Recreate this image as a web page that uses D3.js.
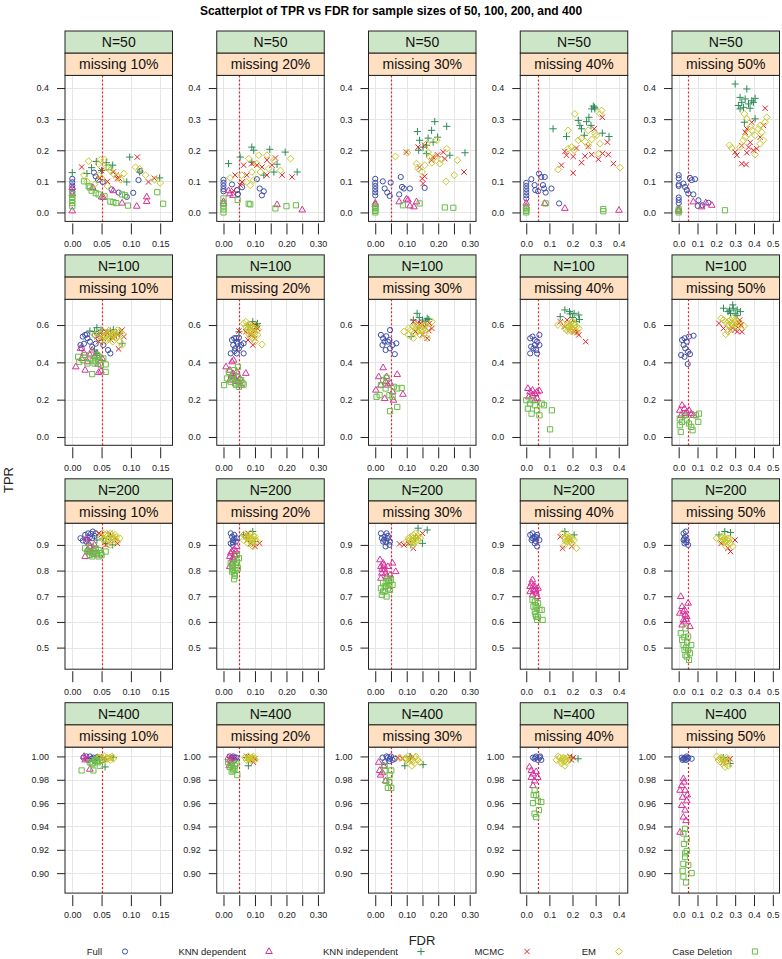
<!DOCTYPE html>
<html><head><meta charset="utf-8">
<style>
  body { margin:0; background:#fff; }
  svg text { font-family: "Liberation Sans", Arial, Helvetica, sans-serif; }
</style>
<script src="https://cdn.jsdelivr.net/npm/d3@7/dist/d3.min.js"></script>
</head><body>
<svg id="chart" width="782" height="959"></svg>
<script>
// ───────────── data ─────────────
const sampleSizes = [50, 100, 200, 400];
const missingRates = [10, 20, 30, 40, 50];
const methods = ['Full', 'KNN dependent', 'KNN independent', 'MCMC', 'EM', 'Case Deletion'];

// per-column FDR ticks, per-row TPR ticks
const xTicks = [
  [0, 0.05, 0.10, 0.15],
  [0, 0.05, 0.10, 0.15, 0.20, 0.25, 0.30],
  [0, 0.05, 0.10, 0.15, 0.20, 0.25, 0.30],
  [0, 0.1, 0.2, 0.3, 0.4],
  [0, 0.1, 0.2, 0.3, 0.4, 0.5]
];
const yTicks = [
  [0, 0.1, 0.2, 0.3, 0.4],
  [0, 0.2, 0.4, 0.6],
  [0.5, 0.6, 0.7, 0.8, 0.9],
  [0.90, 0.92, 0.94, 0.96, 0.98, 1.00]
];
const fdrTarget = 0.05;

// points [FDR, TPR]; 20 panels each, ordered N=50 (10%..50%), N=100, N=200, N=400
const full = [
  [[0,.108],[0,.097],[0,.087],[0,.077],[0,.067],[.037,.128],[.040,.116],[.044,.105],[.052,.098],[.067,.074],[.079,.064],[.093,.050],[.104,.063],[.113,.104],[.116,.133]],
  [[0,.105],[0,.095],[0,.085],[0,.075],[0,.068],[.027,.09],[.043,.072],[.046,.059],[.059,.081],[.106,.107],[.115,.077],[.122,.055],[.128,.068]],
  [[0,.108],[0,.095],[0,.085],[0,.075],[0,.065],[0,.055],[.024,.1],[.03,.077],[.038,.064],[.046,.053],[.049,.096],[.076,.058],[.081,.114],[.085,.082],[.091,.077],[.11,.077],[.157,.079]],
  [[0,.095],[0,.085],[0,.075],[0,.065],[0,.055],[0,.045],[.022,.107],[.036,.088],[.039,.072],[.051,.068],[.055,.125],[.065,.114],[.072,.088],[.08,.114],[.077,.077],[.084,.064],[.109,.077],[.142,.029]],
  [[0,.12],[0,.11],[0,.09],[0,.085],[0,.048],[0,.04],[0,.03],[.025,.093],[.034,.082],[.043,.072],[.051,.061],[.06,.111],[.069,.104],[.087,.107],[.078,.058],[.105,.039],[.101,.021],[.126,.023],[.158,.031]],
  [[.014,.493],[.018,.538],[.022,.547],[.026,.529],[.016,.475],[.03,.511],[.038,.547],[.045,.529],[.061,.466],[.065,.448],[.034,.484],[.053,.493],[.04,.5],[.025,.55],[.02,.5]],
  [[.027,.52],[.034,.529],[.042,.511],[.049,.532],[.031,.493],[.037,.475],[.056,.493],[.064,.502],[.023,.448],[.042,.448],[.064,.448],[.049,.475],[.04,.53],[.045,.5],[.035,.46]],
  [[.018,.547],[.025,.529],[.03,.511],[.04,.511],[.047,.573],[.023,.493],[.033,.466],[.047,.475],[.055,.493],[.067,.502],[.062,.444],[.045,.52],[.035,.54]],
  [[.017,.529],[.027,.538],[.037,.52],[.047,.511],[.057,.547],[.021,.484],[.031,.475],[.017,.448],[.047,.448],[.057,.493],[.037,.493],[.043,.466]],
  [[.018,.52],[.031,.529],[.043,.511],[.055,.538],[.079,.543],[.013,.439],[.031,.43],[.035,.475],[.05,.457],[.06,.444],[.048,.391],[.026,.493]],
  [[.014,.926],[.022,.939],[.027,.945],[.032,.943],[.034,.926],[.038,.935],[.035,.952],[.024,.913],[.018,.917],[.03,.93],[.026,.92],[.04,.945]],
  [[.023,.945],[.027,.932],[.034,.939],[.031,.919],[.023,.906],[.039,.913],[.042,.926],[.029,.9],[.035,.925],[.03,.91]],
  [[.018,.945],[.03,.932],[.036,.945],[.04,.926],[.047,.913],[.025,.913],[.033,.894],[.045,.9],[.021,.926],[.028,.92],[.035,.91],[.04,.935]],
  [[.017,.939],[.027,.945],[.037,.932],[.047,.939],[.057,.919],[.023,.919],[.037,.906],[.047,.894],[.027,.926],[.035,.925],[.04,.915],[.045,.93]],
  [[.026,.945],[.035,.932],[.043,.919],[.031,.906],[.05,.9],[.026,.919],[.038,.952],[.03,.925],[.04,.91]],
  [[.019,.999],[.024,1],[.03,1],[.036,.999],[.027,.997],[.041,.999],[.033,.998],[.038,.996]],
  [[.02,1],[.031,1],[.041,.999],[.026,.998],[.036,.997],[.025,.999],[.035,.999]],
  [[.023,.999],[.036,1],[.046,.998],[.055,.997],[.03,.995],[.062,.998],[.04,.999],[.05,1],[.045,.996]],
  [[.029,.999],[.043,1],[.058,.999],[.065,.997],[.05,.997],[.036,.998],[.04,.999],[.06,1]],
  [[.016,.999],[.025,.998],[.034,.999],[.043,1],[.051,.999],[.069,.998],[.021,.997],[.039,.997],[.03,.998],[.047,.998]]
];
const knnDependent = [
  [[0,.005],[0,.08],[0,.06],[.05,.05],[.07,.07],[.085,.03],[.11,.02],[.127,.035],[.127,.05],[.053,.048],[.035,.08]],
  [[0,.035],[0,.028],[.016,.07],[.02,.06],[.03,.055],[.17,.025],[.25,.008]],
  [[0,.03],[0,.025],[.076,.034],[.099,.043],[.104,.04],[.11,.021],[.123,.018],[.131,.034]],
  [[0,.03],[0,.02],[.08,.029],[.167,.013],[.401,.007]],
  [[0,.01],[0,.005],[.078,.034],[.122,.018],[.144,.031],[.176,.023]],
  [[.006,.376],[.014,.475],[.016,.421],[.022,.358],[.026,.403],[.038,.43],[.042,.448],[.045,.346],[.049,.353],[.034,.466],[.051,.421],[.03,.44],[.044,.39],[.02,.45]],
  [[.008,.376],[.02,.358],[.027,.403],[.032,.412],[.042,.349],[.046,.296],[.056,.278],[.071,.341],[.034,.323],[.02,.305],[.052,.314],[.03,.34],[.04,.3],[.025,.33]],
  [[.002,.251],[.011,.323],[.025,.371],[.033,.296],[.04,.278],[.048,.287],[.036,.323],[.018,.278],[.055,.242],[.07,.335],[.088,.229],[.058,.197],[.03,.206]],
  [[.007,.26],[.017,.242],[.027,.251],[.037,.233],[.047,.242],[.057,.247],[.011,.215],[.027,.224],[.047,.206],[.037,.197]],
  [[.006,.143],[.018,.17],[.031,.152],[.043,.134],[.055,.143],[.067,.125],[.013,.116],[.035,.125],[.079,.116]],
  [[.022,.855],[.026,.881],[.03,.894],[.034,.868],[.028,.906],[.042,.861],[.038,.9],[.024,.926],[.03,.875],[.036,.885]],
  [[.02,.855],[.023,.868],[.027,.874],[.031,.842],[.034,.881],[.042,.894],[.037,.861],[.027,.829],[.02,.816],[.035,.86],[.04,.875],[.03,.85]],
  [[.015,.842],[.018,.816],[.021,.79],[.025,.829],[.03,.803],[.036,.777],[.04,.816],[.018,.77],[.047,.783],[.065,.796],[.055,.829],[.028,.82],[.033,.79],[.022,.805]],
  [[.017,.738],[.023,.751],[.027,.764],[.031,.725],[.037,.738],[.043,.712],[.047,.699],[.027,.705],[.017,.718],[.051,.731],[.035,.72],[.04,.725],[.03,.74]],
  [[.011,.699],[.018,.66],[.031,.647],[.035,.627],[.026,.608],[.043,.621],[.05,.673],[.018,.588],[.06,.582],[.006,.634],[.025,.64],[.04,.61],[.03,.6]],
  [[.02,1],[.022,.997],[.03,.989],[.026,.998]],
  [[.015,.999],[.02,.997],[.026,.994],[.031,.998],[.018,.992],[.024,.996],[.028,.999]],
  [[.014,.988],[.017,.984],[.027,.992],[.033,.979],[.023,.986],[.011,.995]],
  [[.014,.991],[.022,.982],[.029,.985],[.036,.979],[.043,.987],[.029,.975],[.022,.988],[.05,.982]],
  [[.025,.981],[.016,.975],[.034,.971],[.021,.965],[.043,.962],[.016,.958],[.034,.954],[.025,.948],[.007,.935],[.039,.945],[.046,.967],[.028,.978],[.007,.971]]
];
const knnIndependent = [
  [[0,.128],[.033,.144],[.041,.164],[.058,.16],[.069,.152],[.098,.178],[.115,.13],[.149,.111],[.093,.098],[.05,.135],[.025,.125]],
  [[.016,.157],[.053,.178],[.09,.21],[.096,.2],[.147,.203],[.196,.194],[.234,.13],[.09,.162],[.128,.12],[.16,.13],[.17,.155]],
  [[.134,.26],[.141,.232],[.152,.21],[.163,.216],[.168,.239],[.179,.264],[.184,.226],[.189,.292],[.198,.242],[.227,.277],[.237,.184],[.285,.192],[.163,.189],[.138,.2]],
  [[.116,.269],[.174,.244],[.225,.296],[.232,.28],[.239,.269],[.261,.292],[.271,.306],[.283,.333],[.29,.342],[.297,.333],[.28,.28],[.329,.255],[.358,.244],[.251,.248],[.295,.338]],
  [[.3,.413],[.326,.333],[.335,.354],[.353,.365],[.362,.397],[.371,.349],[.388,.359],[.397,.354],[.406,.367],[.406,.301],[.344,.338],[.379,.335],[.317,.344],[.349,.29],[.326,.37]],
  [[.03,.568],[.038,.565],[.042,.586],[.049,.573],[.057,.556],[.065,.568],[.081,.556],[.065,.538],[.042,.448],[.038,.466],[.085,.502],[.045,.555],[.07,.575],[.075,.55]],
  [[.049,.564],[.093,.618],[.105,.6],[.078,.6],[.1,.582],[.108,.609]],
  [[.133,.663],[.15,.627],[.165,.636],[.121,.627],[.114,.538],[.16,.62],[.14,.64],[.17,.63]],
  [[.167,.681],[.187,.672],[.207,.663],[.227,.654],[.147,.645],[.217,.618],[.2,.64],[.23,.63],[.19,.66]],
  [[.238,.69],[.262,.672],[.287,.708],[.311,.681],[.328,.672],[.275,.663],[.3,.66],[.29,.69],[.27,.68],[.31,.65]],
  [[.042,.919],[.053,.926],[.065,.932],[.069,.9],[.057,.906]],
  [[.064,.939],[.093,.952],[.1,.913],[.078,.926]],
  [[.128,.926],[.136,.965],[.165,.958],[.15,.906],[.113,.9]],
  [[.167,.952],[.207,.939]],
  [[.214,.939],[.245,.952],[.275,.948]],
  [[.041,.999],[.056,.991],[.07,.999],[.047,.997]],
  [[.079,.992],[.095,.998],[.073,.999]],
  [[.094,.992],[.152,.993],[.11,1]],
  [[.224,.998],[.196,.999]],
  [[.273,.994],[.237,.999]]
];
const mcmc = [
  [[.016,.146],[.047,.11],[.05,.135],[.07,.13],[.075,.12],[.077,.11],[.111,.178],[.13,.098],[.14,.11],[.08,.11],[.06,.10]],
  [[.037,.12],[.032,.07],[.064,.152],[.09,.157],[.106,.152],[.122,.146],[.138,.12],[.154,.152],[.186,.12],[.218,.114],[.074,.12],[.059,.098],[.053,.088],[.138,.168],[.165,.175]],
  [[.099,.194],[.136,.21],[.141,.146],[.149,.109],[.152,.093],[.157,.116],[.179,.168],[.216,.194],[.221,.173],[.282,.13],[.184,.178],[.198,.185],[.157,.216]],
  [[.152,.152],[.167,.196],[.174,.184],[.203,.18],[.203,.127],[.217,.207],[.239,.16],[.254,.181],[.268,.212],[.283,.186],[.294,.269],[.329,.306],[.312,.171],[.351,.226],[.355,.186],[.377,.157],[.33,.19]],
  [[.3,.194],[.309,.184],[.335,.157],[.358,.154],[.353,.258],[.362,.269],[.371,.21],[.38,.225],[.388,.29],[.397,.2],[.415,.205],[.433,.242],[.45,.28],[.459,.335],[.362,.192],[.335,.215]],
  [[.042,.538],[.048,.556],[.053,.529],[.057,.564],[.064,.547],[.069,.532],[.077,.547],[.088,.538],[.079,.472],[.085,.573],[.045,.511],[.06,.555],[.072,.54],[.066,.52]],
  [[.049,.568],[.071,.564],[.086,.547],[.093,.493],[.1,.529],[.078,.52],[.093,.573],[.108,.582],[.085,.59],[.1,.6],[.09,.55]],
  [[.121,.618],[.136,.582],[.15,.547],[.165,.529],[.18,.582],[.128,.565],[.157,.591],[.172,.609],[.143,.609],[.15,.6],[.135,.61],[.17,.57]],
  [[.147,.618],[.167,.591],[.187,.573],[.227,.547],[.257,.511],[.207,.565],[.177,.627],[.197,.6],[.19,.61],[.21,.58],[.22,.56]],
  [[.214,.609],[.238,.582],[.275,.573],[.311,.565],[.336,.564],[.324,.627],[.299,.6],[.28,.59],[.3,.575],[.33,.6],[.32,.61]],
  [[.045,.945],[.053,.932],[.057,.9],[.065,.913],[.073,.926],[.077,.906],[.049,.939],[.064,.945]],
  [[.071,.932],[.086,.906],[.1,.894],[.115,.906],[.078,.945]],
  [[.077,.904],[.106,.906],[.121,.887],[.136,.932],[.15,.945],[.091,.9]],
  [[.147,.932],[.157,.887],[.197,.894],[.187,.919]],
  [[.226,.906],[.262,.887],[.299,.919],[.275,.874]],
  [[.047,1],[.053,.998],[.059,.997],[.064,.999]],
  [[.073,1],[.084,.997],[.095,.995],[.1,.998]],
  [[.072,.999],[.087,.998],[.11,.997],[.119,1]],
  [[.203,.999],[.196,.997],[.188,1]],
  [[.237,.995],[.255,.997],[.273,.998]]
];
const em = [
  [[.028,.165],[.045,.155],[.048,.17],[.055,.17],[.058,.145],[.065,.135],[.07,.125],[.078,.115],[.083,.105],[.088,.125],[.108,.145],[.115,.14],[.125,.12],[.14,.105],[.15,.095],[.045,.12],[.05,.11],[.038,.09],[.06,.085],[.02,.12],[.025,.10]],
  [[.021,.111],[.08,.173],[.112,.184],[.138,.184],[.16,.168],[.181,.135],[.213,.173],[.074,.098],[.085,.087],[.096,.104],[.117,.13],[.106,.157],[.143,.141],[.058,.12],[.09,.13]],
  [[.064,.18],[.102,.192],[.131,.157],[.136,.141],[.149,.13],[.157,.152],[.163,.221],[.168,.194],[.173,.178],[.189,.178],[.195,.232],[.205,.157],[.227,.205],[.225,.1],[.251,.12],[.261,.168],[.21,.17],[.18,.16]],
  [[.138,.138],[.181,.205],[.196,.21],[.207,.2],[.21,.317],[.225,.232],[.239,.239],[.254,.228],[.268,.216],[.283,.235],[.297,.253],[.304,.248],[.319,.317],[.326,.328],[.319,.221],[.312,.189],[.406,.144],[.181,.264],[.268,.264]],
  [[.27,.216],[.282,.207],[.326,.21],[.344,.232],[.349,.317],[.353,.242],[.371,.253],[.388,.264],[.406,.248],[.424,.269],[.433,.28],[.441,.258],[.45,.232],[.459,.29],[.468,.306],[.406,.186],[.433,.221],[.362,.301],[.38,.275]],
  [[.038,.547],[.042,.556],[.049,.55],[.053,.565],[.057,.538],[.061,.556],[.065,.529],[.069,.547],[.073,.561],[.077,.573],[.081,.565],[.085,.493],[.081,.511],[.069,.511],[.057,.511],[.049,.52],[.06,.545],[.066,.56],[.072,.55],[.058,.525],[.075,.535],[.062,.57],[.052,.53],[.086,.55],[.07,.54]],
  [[.064,.609],[.071,.591],[.078,.582],[.086,.6],[.093,.565],[.1,.582],[.108,.547],[.086,.538],[.078,.556],[.122,.496],[.071,.618],[.093,.529],[.1,.511],[.08,.6],[.09,.59],[.095,.55],[.085,.575],[.1,.56],[.105,.6],[.075,.57],[.11,.575]],
  [[.091,.565],[.106,.582],[.113,.573],[.121,.591],[.128,.6],[.135,.565],[.143,.547],[.15,.573],[.157,.556],[.165,.529],[.172,.582],[.18,.618],[.106,.547],[.121,.529],[.14,.58],[.15,.59],[.13,.585],[.16,.6],[.145,.57],[.125,.56],[.155,.6]],
  [[.137,.6],[.157,.609],[.167,.582],[.177,.6],[.187,.591],[.197,.618],[.207,.609],[.217,.591],[.227,.582],[.197,.565],[.217,.565],[.177,.568],[.19,.6],[.2,.58],[.21,.6],[.18,.59],[.2,.62],[.19,.575]],
  [[.226,.636],[.25,.618],[.262,.6],[.275,.627],[.287,.636],[.299,.618],[.311,.591],[.324,.6],[.348,.595],[.262,.565],[.25,.55],[.238,.627],[.28,.61],[.29,.6],[.27,.6],[.3,.63],[.31,.61],[.285,.58],[.265,.62]],
  [[.049,.932],[.053,.919],[.057,.939],[.061,.926],[.065,.945],[.069,.932],[.073,.919],[.077,.913],[.081,.926],[.057,.906],[.065,.9],[.073,.939],[.053,.945],[.06,.935],[.07,.925],[.075,.93],[.063,.915],[.055,.925],[.067,.94]],
  [[.064,.919],[.071,.932],[.078,.939],[.086,.926],[.093,.919],[.1,.932],[.078,.906],[.093,.894],[.108,.913],[.064,.939],[.086,.945],[.08,.93],[.09,.925],[.095,.935],[.085,.915],[.075,.925],[.1,.92],[.09,.905]],
  [[.099,.913],[.106,.926],[.113,.932],[.121,.939],[.128,.945],[.135,.919],[.121,.9],[.128,.913],[.143,.926],[.113,.906],[.12,.925],[.125,.92],[.13,.93],[.115,.915],[.135,.935],[.11,.92]],
  [[.157,.945],[.167,.926],[.177,.913],[.187,.932],[.197,.906],[.207,.919],[.217,.887],[.167,.9],[.177,.939],[.18,.92],[.185,.925],[.175,.93],[.19,.915],[.17,.915],[.2,.925]],
  [[.201,.926],[.226,.932],[.238,.919],[.25,.913],[.262,.926],[.275,.906],[.287,.894],[.25,.894],[.226,.913],[.24,.925],[.245,.91],[.255,.92],[.265,.915],[.235,.935],[.27,.925]],
  [[.047,.999],[.053,.998],[.059,.999],[.064,.999],[.07,.998],[.056,.997],[.041,.998],[.045,.999],[.05,.997],[.06,.998],[.065,.997],[.055,1],[.068,1]],
  [[.068,.999],[.079,1],[.084,.998],[.089,.999],[.095,1],[.1,.997],[.073,.997],[.082,.998],[.087,.997],[.092,.999],[.078,.998],[.097,.998]],
  [[.078,.999],[.094,.998],[.11,.997],[.126,.999],[.142,.995],[.116,.992],[.103,1],[.129,1],[.1,.998],[.12,.996],[.135,.997],[.105,.995],[.125,.994]],
  [[.13,.997],[.145,.999],[.159,.998],[.174,.995],[.167,.992],[.188,.997],[.152,.994],[.138,1],[.181,.999],[.155,.997],[.165,.996],[.16,.999],[.17,.998],[.15,.996]],
  [[.202,1],[.22,.998],[.229,.994],[.237,.997],[.246,.991],[.255,.999],[.264,.992],[.211,.997],[.225,.999],[.24,.996],[.25,.994],[.23,.998],[.26,.996]]
];
const caseDeletion = [
  [[0,.03],[0,.04],[0,.05],[0,.06],[0,.02],[.028,.085],[.03,.08],[.04,.062],[.045,.058],[.055,.052],[.065,.035],[.07,.033],[.075,.03],[.085,.058],[.09,.055],[.095,.022],[.145,.065],[.155,.028],[.062,.145],[.02,.10],[.033,.07]],
  [[0,0],[0,.01],[0,.02],[0,.03],[0,.045],[.045,.04],[.08,.028],[.085,.026],[.165,.013],[.2,.02],[.23,.023]],
  [[0,0],[0,.005],[0,.01],[0,.015],[0,.02],[.088,.023],[.141,.029],[.221,.016],[.248,.015]],
  [[0,0],[0,.005],[0,.01],[0,.015],[.084,.029],[.333,.011],[.333,.004]],
  [[0,0],[0,.005],[0,.01],[.246,.007]],
  [[.01,.43],[.012,.403],[.018,.412],[.026,.394],[.034,.337],[.038,.394],[.042,.439],[.045,.412],[.049,.385],[.053,.421],[.057,.349],[.057,.389],[.03,.421],[.022,.439],[.035,.41],[.045,.43],[.04,.405]],
  [[.002,.278],[.012,.314],[.017,.349],[.023,.296],[.031,.332],[.037,.287],[.049,.269],[.056,.305],[.064,.281],[.046,.376],[.034,.358],[.03,.31],[.045,.32],[.04,.28],[.06,.29]],
  [[.004,.215],[.014,.224],[.018,.278],[.025,.305],[.033,.26],[.036,.317],[.045,.224],[.047,.138],[.059,.269],[.07,.26],[.084,.263],[.07,.161],[.055,.215]],
  [[0,.197],[.007,.152],[.017,.179],[.023,.125],[.037,.17],[.047,.143],[.057,.116],[.067,.179],[.077,.17],[.111,.143],[.103,.041],[.027,.197]],
  [[.006,.099],[.006,.063],[.011,.027],[.018,.081],[.031,.116],[.043,.09],[.055,.072],[.067,.054],[.074,.036],[.092,.116],[.104,.081],[.108,.125]],
  [[.026,.874],[.03,.861],[.034,.855],[.038,.874],[.042,.868],[.045,.855],[.049,.868],[.057,.874],[.032,.894],[.04,.887],[.022,.887],[.045,.88],[.05,.86],[.036,.865],[.028,.875]],
  [[.023,.829],[.027,.816],[.031,.803],[.034,.79],[.039,.822],[.042,.835],[.046,.809],[.049,.848],[.034,.766],[.027,.796],[.042,.861],[.038,.8],[.043,.83],[.03,.82],[.036,.78]],
  [[.018,.731],[.021,.705],[.025,.718],[.03,.738],[.036,.757],[.04,.77],[.045,.744],[.047,.725],[.036,.699],[.05,.764],[.055,.744],[.025,.751],[.03,.72],[.04,.73],[.045,.76],[.035,.74]],
  [[.027,.686],[.031,.66],[.037,.64],[.043,.621],[.047,.608],[.057,.647],[.067,.647],[.071,.608],[.051,.673],[.037,.679],[.04,.63],[.045,.655],[.05,.62],[.04,.665]],
  [[.011,.556],[.018,.53],[.026,.51],[.031,.491],[.036,.471],[.043,.465],[.055,.452],[.06,.478],[.067,.51],[.05,.543],[.036,.575],[.04,.5],[.045,.52],[.03,.54],[.05,.49]],
  [[.016,.988],[.036,.988],[.03,.995],[.039,.997],[.044,.995],[.05,.997],[.047,.992],[.033,.994],[.035,.994],[.042,.996]],
  [[.02,.991],[.026,.987],[.031,.988],[.036,.992],[.044,.984],[.015,.995],[.041,.994],[.025,.993],[.03,.99],[.035,.989]],
  [[.03,.988],[.035,.979],[.04,.973],[.051,.973],[.03,.992],[.046,.984],[.051,.988],[.045,.978]],
  [[.036,.971],[.043,.967],[.029,.96],[.036,.951],[.043,.948],[.055,.954],[.065,.961],[.05,.962],[.032,.967]],
  [[.034,.938],[.025,.934],[.043,.929],[.028,.925],[.043,.919],[.034,.917],[.025,.908],[.051,.907],[.021,.902],[.069,.9],[.025,.897],[.039,.892],[.034,.914]]
];

// ───────────── styling / layout ─────────────
const seriesData = [full, knnDependent, knnIndependent, mcmc, em, caseDeletion];
const colors = ['#3f4fa8', '#d8329a', '#2e8b57', '#e4212b', '#c8c82c', '#6abd47'];
const shapes = ['circle', 'triangle', 'plus', 'times', 'diamond', 'square'];

// axis limits (lattice pads each range by ~7%)
const xDomains = [[-0.0124, 0.171], [-0.0214, 0.32], [-0.0214, 0.32], [-0.026, 0.439], [-0.0355, 0.5355]];
const yDomains = [[-0.0288, 0.4407], [-0.0446, 0.738], [0.4159, 0.9845], [0.8829, 1.008]];

const COL0 = 65, COLSTEP = 151.75, PW = 107.5;
const ROW0 = 31, ROWSTEP = 223.9, STRIP = 22.2, PH = 146;
const snap = v => Math.round(v) + 0.5;

function shapePath(type) {
  switch (type) {
    case 'triangle': return 'M0,-3.7L3.3,2L-3.3,2Z';
    case 'plus': return 'M-3.6,0H3.6M0,-3.6V3.6';
    case 'times': return 'M-2.7,-2.7L2.7,2.7M-2.7,2.7L2.7,-2.7';
    case 'diamond': return 'M0,-3.4L3.4,0L0,3.4L-3.4,0Z';
    case 'square': return 'M-2.6,-2.6H2.6V2.6H-2.6Z';
    default: return d3.symbol().type(d3.symbolCircle).size(Math.PI * 2.6 * 2.6)();
  }
}

const svg = d3.select('#chart');

svg.append('text')
  .attr('x', 391).attr('y', 15)
  .attr('text-anchor', 'middle')
  .attr('font-size', 12).attr('font-weight', 'bold')
  .text('Scatterplot of TPR vs FDR for sample sizes of 50, 100, 200, and 400');

sampleSizes.forEach((n, r) => {
  missingRates.forEach((m, c) => {
    const p = r * missingRates.length + c;
    const left = COL0 + c * COLSTEP;
    const top = ROW0 + r * ROWSTEP;
    const pTop = top + 2 * STRIP, pBot = pTop + PH;
    const x = d3.scaleLinear().domain(xDomains[c]).range([left, left + PW]);
    const y = d3.scaleLinear().domain(yDomains[r]).range([pBot, pTop]);
    const g = svg.append('g');

    // grid
    g.append('g').selectAll('line').data(xTicks[c]).join('line')
      .attr('x1', d => snap(x(d))).attr('x2', d => snap(x(d))).attr('y1', pTop).attr('y2', pBot)
      .attr('stroke', '#e6e6e6').attr('stroke-width', 1);
    g.append('g').selectAll('line').data(yTicks[r]).join('line')
      .attr('x1', left).attr('x2', left + PW).attr('y1', d => snap(y(d))).attr('y2', d => snap(y(d)))
      .attr('stroke', '#e6e6e6').attr('stroke-width', 1);

    // FDR = 0.05 reference
    g.append('line')
      .attr('x1', snap(x(fdrTarget))).attr('x2', snap(x(fdrTarget))).attr('y1', pTop).attr('y2', pBot)
      .attr('stroke', '#e4212b').attr('stroke-width', 1.2).attr('stroke-dasharray', '2,2');

    // points
    seriesData.forEach((series, s) => {
      g.append('g').selectAll('path').data(series[p]).join('path')
        .attr('transform', d => `translate(${x(d[0])},${y(d[1])})`)
        .attr('d', shapePath(shapes[s]))
        .attr('fill', 'none').attr('stroke', colors[s]).attr('stroke-width', 1);
    });

    // panel frame
    g.append('rect')
      .attr('x', left).attr('y', pTop).attr('width', PW).attr('height', PH)
      .attr('fill', 'none').attr('stroke', '#222').attr('stroke-width', 1);

    // strips
    const strips = [[`N=${n}`, '#cde6c7'], [`missing ${m}%`, '#ffe0c2']];
    strips.forEach(([label, fill], k) => {
      g.append('rect')
        .attr('x', left).attr('y', top + k * STRIP).attr('width', PW).attr('height', STRIP)
        .attr('fill', fill).attr('stroke', '#222').attr('stroke-width', 1);
      g.append('text')
        .attr('x', left + PW / 2).attr('y', top + k * STRIP + STRIP / 2 + 5)
        .attr('text-anchor', 'middle').attr('font-size', 14).attr('fill', '#111')
        .text(label);
    });

    // axes
    const xFmt = c < 3
      ? (d => (Math.round(d * 100) % 10 === 0 || c === 0) ? d3.format('.2f')(d) : '')
      : d3.format('.1f');
    const xAxis = g.append('g')
      .attr('transform', `translate(0,${pBot + 2})`)
      .call(d3.axisBottom(x).tickValues(xTicks[c]).tickSize(11).tickPadding(6).tickFormat(xFmt));
    const yFmt = r === 3 ? d3.format('.2f') : d3.format('.1f');
    const yAxis = g.append('g')
      .attr('transform', `translate(${left},0)`)
      .call(d3.axisLeft(y).tickValues(yTicks[r]).tickSize(8).tickPadding(8).tickFormat(yFmt));
    [xAxis, yAxis].forEach(a => {
      a.select('.domain').remove();
      a.selectAll('line').attr('stroke', '#222');
      a.selectAll('text').attr('font-size', 9).attr('fill', '#222')
        .attr('font-family', '"Liberation Sans", Arial, sans-serif');
    });
  });
});

// axis titles
svg.append('text')
  .attr('transform', 'translate(13,480) rotate(-90)')
  .attr('text-anchor', 'middle').attr('font-size', 13).attr('fill', '#222')
  .text('TPR');
svg.append('text')
  .attr('x', 422).attr('y', 945)
  .attr('text-anchor', 'middle').attr('font-size', 13).attr('fill', '#222')
  .text('FDR');

// legend
const legendX = [125, 269, 421, 527, 619, 755];
methods.forEach((name, s) => {
  svg.append('path')
    .attr('transform', `translate(${legendX[s]},951.5)`)
    .attr('d', shapePath(shapes[s]))
    .attr('fill', 'none').attr('stroke', colors[s]).attr('stroke-width', 1);
  svg.append('text')
    .attr('x', legendX[s] - 23).attr('y', 955)
    .attr('text-anchor', 'end').attr('font-size', 9.5).attr('fill', '#222')
    .text(name);
});
</script>
</body></html>
